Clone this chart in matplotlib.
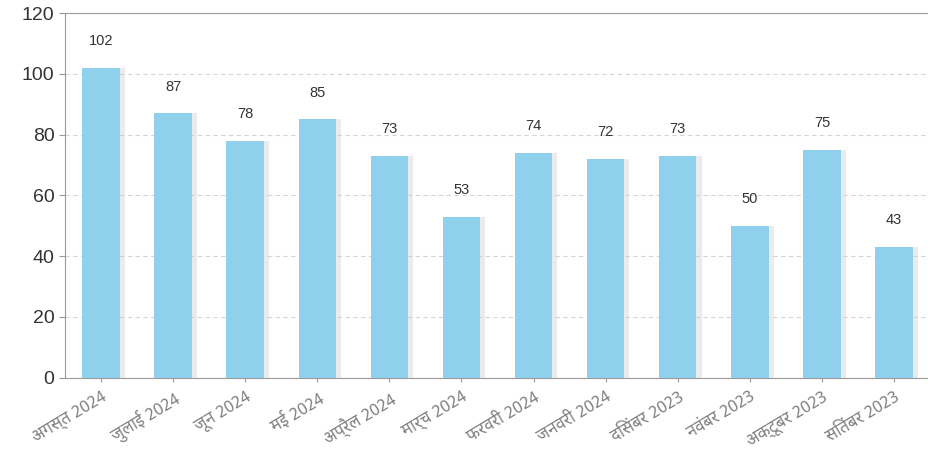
import numpy as np
import matplotlib
matplotlib.use("Agg")
import matplotlib.pyplot as plt

months = ["अगस्त 2024", "जुलाई 2024", "जून 2024", "मई 2024", "अप्रैल 2024",
          "मार्च 2024", "फरवरी 2024", "जनवरी 2024", "दिसंबर 2023",
          "नवंबर 2023", "अक्टूबर 2023", "सितंबर 2023"]
counts = [102, 87, 78, 85, 73, 53, 74, 72, 73, 50, 75, 43]

BAR = "#8fd0ec"; GR = "#9a9a9a"
DEV = ["Noto Sans Devanagari", "Lohit Devanagari", "FreeSans", "DejaVu Sans"]
NUM = ["Liberation Sans", "DejaVu Sans"]
plt.rcParams["font.family"] = NUM

fig = plt.figure(figsize=(9.29, 4.72), dpi=100)
ax = fig.add_axes([0.07, 0.2, 0.935, 0.772])
x = np.arange(len(months))
# soft shadow to the right of each bar
ax.bar(x + 0.06, counts, 0.54, color="#c8c8c8", alpha=0.35, lw=0, zorder=2)
ax.bar(x, counts, 0.52, color=BAR, lw=0, zorder=3)
for xi, v in zip(x, counts):
    ax.text(xi, v + 6.5, str(v), ha="center", va="bottom", fontsize=10.5, color="#333333")

ax.set_ylim(0, 120)
ax.set_xlim(-0.5, len(months) - 0.45)
ax.set_yticks(range(0, 121, 20))
ax.tick_params(axis="y", labelsize=14, colors="#333333", length=4, color=GR)
ax.set_xticks(x)
ax.set_xticklabels(months, rotation=31, ha="right", rotation_mode="anchor",
                   fontsize=12, color="#808080", family=DEV)
ax.tick_params(axis="x", length=3, color=GR, pad=5)
ax.grid(axis="y", color="#d5d5d5", ls=(0, (4, 3)), lw=0.8, zorder=0)
for s in ("left", "bottom", "top"):
    ax.spines[s].set_color(GR)
ax.spines["right"].set_visible(False)

fig.savefig("out.png", dpi=100)
